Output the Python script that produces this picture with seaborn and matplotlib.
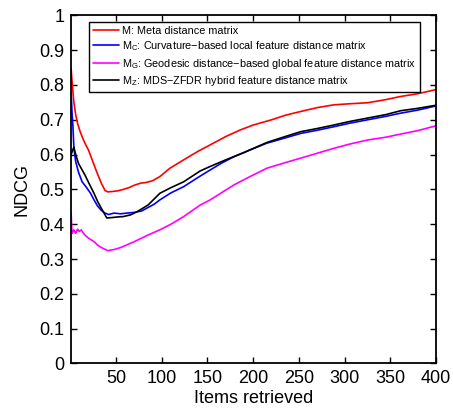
import matplotlib
matplotlib.use("Agg")
import matplotlib.pyplot as plt
import seaborn as sns
import pandas as pd

# NDCG versus number of retrieved items for the four distance matrices
items_meta = [1, 2, 3, 4, 6, 8, 11, 14, 17, 20, 24, 29, 34, 38, 41, 46, 52, 58, 64, 70,
              77, 83, 90, 98, 109, 124, 140, 153, 170, 186, 200, 220, 235, 252, 270,
              288, 305, 325, 345, 361, 380, 400]
ndcg_meta = [0.848, 0.81, 0.78, 0.75, 0.715, 0.69, 0.665, 0.645, 0.628, 0.613, 0.585,
             0.55, 0.518, 0.497, 0.493, 0.494, 0.496, 0.5, 0.505, 0.512, 0.518, 0.52,
             0.525, 0.537, 0.561, 0.585, 0.61, 0.628, 0.652, 0.671, 0.685, 0.7, 0.713,
             0.724, 0.735, 0.743, 0.746, 0.749, 0.758, 0.767, 0.775, 0.787]

items_curv = [1, 2, 3, 4, 6, 9, 13, 18, 22, 26, 30, 34, 38, 42, 48, 55, 62, 70, 78, 85,
              92, 98, 110, 124, 140, 153, 165, 179, 195, 215, 235, 252, 270, 288, 305,
              325, 345, 361, 380, 400]
ndcg_curv = [0.78, 0.72, 0.68, 0.62, 0.58, 0.55, 0.522, 0.505, 0.49, 0.47, 0.452, 0.44,
             0.432, 0.428, 0.432, 0.43, 0.432, 0.434, 0.438, 0.448, 0.458, 0.47, 0.49,
             0.508, 0.535, 0.556, 0.575, 0.594, 0.612, 0.633, 0.648, 0.661, 0.67, 0.68,
             0.69, 0.70, 0.71, 0.719, 0.728, 0.74]

items_geo = [1, 2, 3, 4, 5, 6, 8, 10, 12, 14, 16, 20, 23, 27, 30, 34, 38, 41, 45, 49,
             56, 63, 70, 78, 85, 98, 110, 124, 142, 153, 165, 179, 195, 215, 235, 252,
             270, 288, 305, 325, 345, 361, 380, 400]
ndcg_geo = [0.432, 0.374, 0.38, 0.384, 0.378, 0.374, 0.386, 0.379, 0.384, 0.376, 0.369,
            0.36, 0.355, 0.348, 0.34, 0.333, 0.328, 0.324, 0.326, 0.328, 0.334, 0.342,
            0.35, 0.36, 0.369, 0.384, 0.40, 0.422, 0.455, 0.47, 0.49, 0.513, 0.535,
            0.561, 0.577, 0.59, 0.604, 0.618, 0.63, 0.642, 0.65, 0.659, 0.669, 0.683]

items_hyb = [1, 3, 4, 6, 9, 13, 16, 21, 26, 30, 35, 40, 45, 52, 58, 66, 73, 85, 98, 110,
             124, 142, 153, 170, 190, 215, 235, 252, 270, 288, 305, 325, 345, 361, 380, 400]
ndcg_hyb = [0.60, 0.615, 0.621, 0.60, 0.575, 0.556, 0.542, 0.515, 0.489, 0.465, 0.441,
            0.418, 0.419, 0.421, 0.422, 0.427, 0.436, 0.455, 0.489, 0.505, 0.522, 0.553,
            0.566, 0.585, 0.606, 0.635, 0.652, 0.666, 0.675, 0.685, 0.695, 0.705, 0.715,
            0.726, 0.733, 0.742]

labels = [
    "M: Meta distance matrix",
    "M$_\\mathregular{C}$: Curvature\u2212based local feature distance matrix",
    "M$_\\mathregular{G}$: Geodesic distance\u2212based global feature distance matrix",
    "M$_\\mathregular{Z}$: MDS\u2212ZFDR hybrid feature distance matrix",
]
colors = ["#ff0000", "#0000ff", "#ff00ff", "#000000"]

y_ticks = [0, 0.1, 0.2, 0.3, 0.4, 0.5, 0.6, 0.7, 0.8, 0.9, 1]
y_tick_labels = ["0", "0.1", "0.2", "0.3", "0.4", "0.5", "0.6", "0.7", "0.8", "0.9", "1"]
x_ticks = [50, 100, 150, 200, 250, 300, 350, 400]

frames = []
for lab, xs, ys in zip(labels,
                       [items_meta, items_curv, items_geo, items_hyb],
                       [ndcg_meta, ndcg_curv, ndcg_geo, ndcg_hyb]):
    frames.append(pd.DataFrame({"items": xs, "ndcg": ys, "matrix": lab}))
df = pd.concat(frames, ignore_index=True)

sns.set_style("ticks")
plt.rcParams["font.family"] = ["Liberation Sans", "DejaVu Sans"]
plt.rcParams["mathtext.default"] = "regular"
for key in ["text.color", "axes.labelcolor", "xtick.color", "ytick.color"]:
    plt.rcParams[key] = "black"

fig = plt.figure(figsize=(4.53, 4.11), dpi=100)
ax = fig.add_axes([0.157, 0.1156, 0.806, 0.847])

sns.lineplot(data=df, x="items", y="ndcg", hue="matrix", hue_order=labels,
             palette=colors, linewidth=1.2, sort=False, estimator=None, ax=ax)

ax.set_xlim(1, 400)
ax.set_ylim(0, 1)
ax.set_xticks(x_ticks)
ax.set_xticklabels([str(t) for t in x_ticks], fontsize=13)
ax.set_yticks(y_ticks)
ax.set_yticklabels(y_tick_labels, fontsize=13)
ax.set_xlabel("Items retrieved", fontsize=13, labelpad=2)
ax.set_ylabel("NDCG", fontsize=13, labelpad=6)
ax.tick_params(direction="in", top=True, right=True, length=4, width=1, pad=5,
               colors="black")
for sp in ax.spines.values():
    sp.set_visible(True)
    sp.set_linewidth(1.3)
    sp.set_color("black")

leg = ax.legend(loc="upper left", bbox_to_anchor=(0.049, 0.981), borderaxespad=0,
                fontsize=7.8, frameon=True, fancybox=False, handlelength=2.4,
                handletextpad=0.3, labelspacing=0.32, borderpad=0.35)
leg.get_frame().set_edgecolor("black")
leg.get_frame().set_linewidth(1.0)
leg.get_frame().set_alpha(1)
for line in leg.get_lines():
    line.set_linewidth(1.2)

fig.savefig("out.png", dpi=100)
